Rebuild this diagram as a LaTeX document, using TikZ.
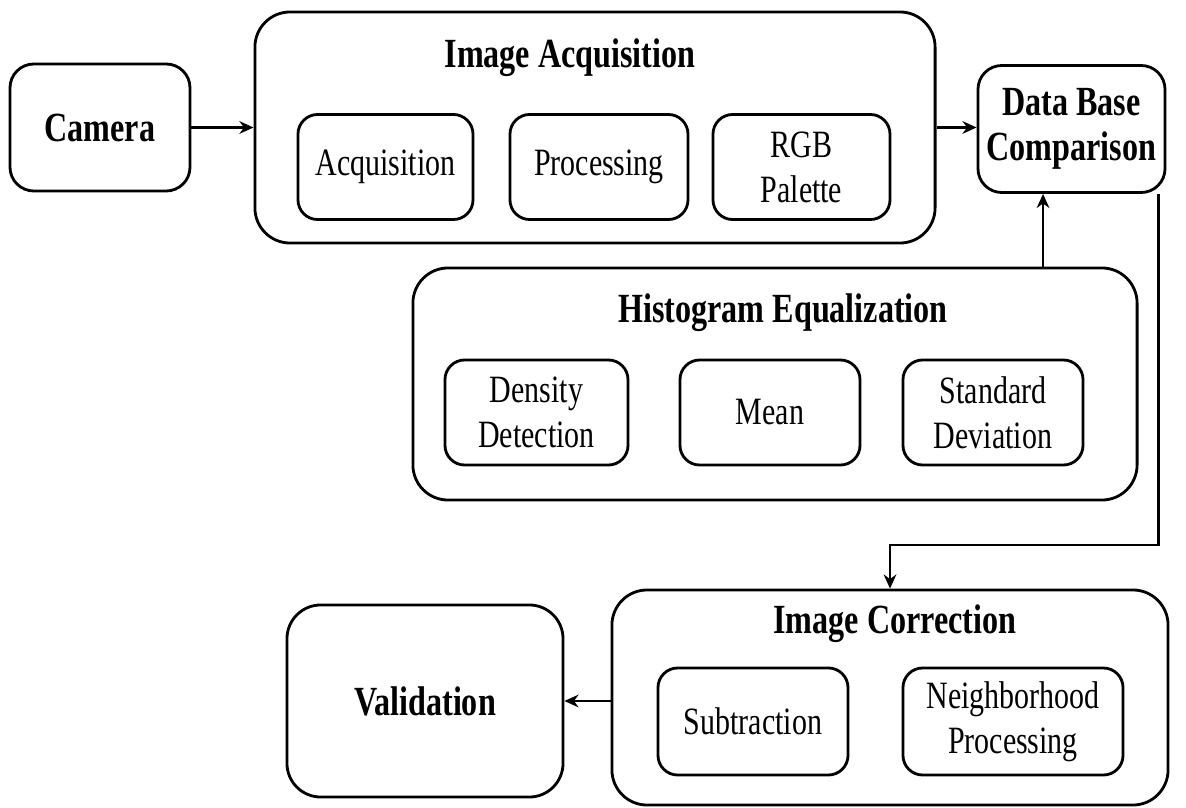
\documentclass[tikz,border=0pt]{standalone}
\usepackage{fontspec}
\setmainfont{Liberation Serif}[FakeStretch=0.775]
\usetikzlibrary{arrows.meta,calc}

\tikzset{
  group/.style={draw, line width=2pt, rounded corners=25pt, inner sep=0pt},
  step box/.style={draw, line width=2pt, rounded corners=14pt, inner sep=0pt,
    minimum height=2.625cm, align=center, font=\fontsize{27.5}{32}\selectfont},
  block/.style={draw, line width=2pt, rounded corners=17pt, inner sep=0pt,
    align=center, font=\fontsize{29.5}{32}\selectfont\bfseries},
  heading/.style={font=\fontsize{29.5}{32}\selectfont\bfseries},
  flow/.style={-{Stealth[length=10pt,width=9pt]}, line width=2pt},
}

\begin{document}
\begin{tikzpicture}[x=0.025cm, y=-0.025cm]
  \useasboundingbox (0,0) rectangle (1186,808);

  % single blocks
  \node[block, minimum width=4.5cm, minimum height=3.175cm] (camera) at (100,127.5) {Camera};
  \node[block, minimum width=4.675cm, minimum height=3.175cm] (db) at (1071.5,129) {Data Base\\Comparison};
  \node[block, rounded corners=24pt, minimum width=6.9cm, minimum height=4.8cm] (valid) at (425,701) {Validation};

  % image acquisition group
  \node[group, minimum width=17cm, minimum height=5.775cm] (acq) at (595,127.5) {};
  \node[heading] (acqtitle) at (570,58) {Image Acquisition};
  \node[step box, minimum width=4.375cm] (acquisition) at (385.5,167) {Acquisition};
  \node[step box, minimum width=4.45cm] (processing) at (599,167) {Processing};
  \node[step box, minimum width=4.425cm] (rgb) at (801.5,167) {RGB\\Palette};

  % histogram equalization group
  \node[group, minimum width=18.1cm, minimum height=5.8cm] (hist) at (775,384) {};
  \node[heading] (histtitle) at (783,313) {Histogram Equalization};
  \node[step box, minimum width=4.575cm] (density) at (536.5,412.5) {Density\\Detection};
  \node[step box, minimum width=4.5cm] (mean) at (770,412.5) {Mean};
  \node[step box, minimum width=4.5cm] (stddev) at (993,412.5) {Standard\\Deviation};

  % image correction group
  \node[group, minimum width=13.9cm, minimum height=5.375cm] (corr) at (890,697.5) {};
  \node[heading] (corrtitle) at (895,624) {Image Correction};
  \node[step box, minimum width=4.75cm, minimum height=2.675cm] (subtraction) at (753,721.5) {Subtraction};
  \node[step box, minimum width=5.5cm, minimum height=2.675cm] (neighbor) at (1013,721.5) {Neighborhood\\Processing};

  % connectors
  \coordinate (dbin) at ($(db.south west)!0.35!(db.south east)$);
  \coordinate (dbout) at ($(db.south east)+(-8,0)$);
  \coordinate (bend) at (corr.north |- 0,545);

  \draw[flow] (camera.east) -- (camera.east -| acq.west);
  \draw[flow] (acq.east) -- (acq.east -| db.west);
  \draw[flow] (dbin |- hist.north) -- (dbin);
  \draw[flow] (dbout) |- (bend) -- (corr.north);
  \draw[flow] (corr.west |- valid.east) -- (valid.east);
\end{tikzpicture}
\end{document}
